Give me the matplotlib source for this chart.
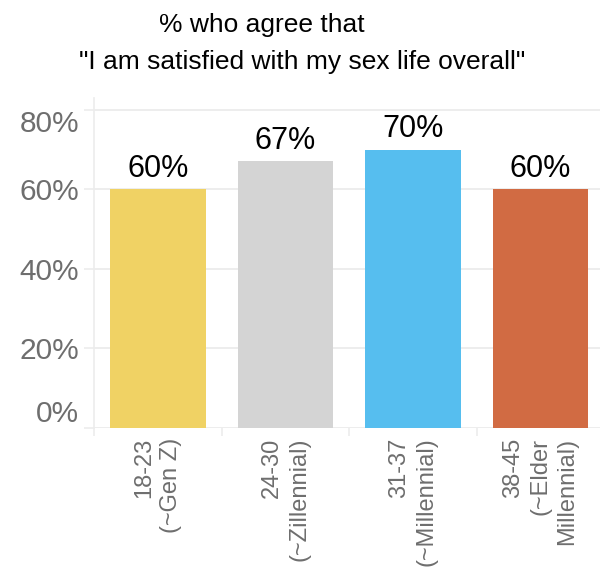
import matplotlib.pyplot as plt
import numpy as np

plt.rcParams['font.family'] = ['Liberation Sans', 'DejaVu Sans']

groups = ["18-23\n(~Gen Z)", "24-30\n(~Zillennial)", "31-37\n(~Millennial)",
          "38-45\n(~Elder\nMillennial)"]
agree = [0.60, 0.67, 0.70, 0.60]
colors = ["#F0D264", "#D4D4D4", "#56BEEF", "#D16B43"]
y_ticks = [0.0, 0.2, 0.4, 0.6, 0.8]
y_labels = ["0%", "20%", "40%", "60%", "80%"]

grid_col = "#ECECEC"
text_gray = "#6E6E6E"

fig = plt.figure(figsize=(6, 5.69), dpi=100)
ax = fig.add_axes([0.157, 0.248, 0.85, 0.58])

x = np.arange(len(groups))
ax.bar(x, agree, width=0.75, color=colors, zorder=2)

for xi, v in zip(x, agree):
    ax.annotate(f"{v * 100:.0f}%", (xi, v), xytext=(0, 4), textcoords="offset points",
                ha="center", va="bottom", fontsize=22, color="black")

ax.set_xlim(-0.5, len(groups) - 0.5)
ax.set_ylim(0, 0.83)

ax.set_yticks(y_ticks)
ax.set_yticklabels(y_labels, fontsize=21.5, color=text_gray)
ylabs = ax.get_yticklabels()
ylabs[0].set_va("bottom")
ylabs[-1].set_va("top")
ax.tick_params(axis="y", length=7, width=1.2, color=grid_col, pad=4)
ax.grid(axis="y", color=grid_col, linewidth=1.3, zorder=0)

ax.set_xticks(x)
ax.set_xticklabels(groups, rotation=90, fontsize=17, color=text_gray,
                   multialignment="right", linespacing=1.3)
ax.tick_params(axis="x", which="major", length=0, pad=7)
ax.set_xticks(np.arange(-0.5, len(groups), 1.0), minor=True)
ax.tick_params(axis="x", which="minor", length=6, width=1.2, color=grid_col)

for side in ["top", "right", "bottom"]:
    ax.spines[side].set_visible(False)
ax.spines["left"].set_color(grid_col)
ax.spines["left"].set_linewidth(1.2)

fig.text(262 / 600, 1 - 25 / 569, "% who agree that", ha="center", va="center",
         fontsize=19, color="black")
fig.text(302 / 600, 1 - 62 / 569, "\"I am satisfied with my sex life overall\"",
         ha="center", va="center", fontsize=19, color="black")

fig.savefig("out.png", dpi=100)
